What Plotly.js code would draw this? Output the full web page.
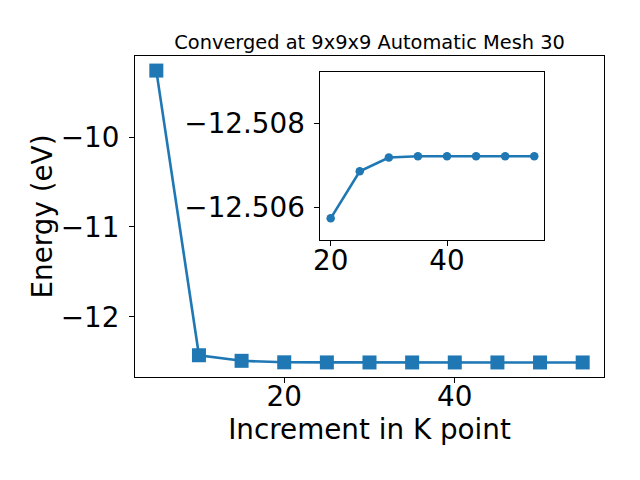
<!DOCTYPE html>
<html>
<head>
<meta charset="utf-8">
<script src="https://cdn.plot.ly/plotly-3.0.1.min.js"></script>
<style>html,body{margin:0;padding:0;background:#fff;}#chart{width:640px;height:480px;}</style>
</head>
<body>
<div id="chart"></div>
<script>
const kpoints = [5, 10, 15, 20, 25, 30, 35, 40, 45, 50, 55];
const energy = [-9.261, -12.427, -12.489, -12.50573, -12.50685, -12.50718, -12.50721, -12.50721, -12.50721, -12.50721, -12.50721];
const insetK = [20, 25, 30, 35, 40, 45, 50, 55];
const insetEnergy = [-12.50573, -12.50685, -12.50718, -12.50721, -12.50721, -12.50721, -12.50721, -12.50721];
const titleText = 'Converged at 9x9x9 Automatic Mesh 30';
const xLabel = 'Increment in K point';
const yLabel = 'Energy (eV)';

const blue = '#1f77b4';
const font = 'DejaVu Sans, sans-serif';
const fs = 27.8;

const traces = [
  {x: kpoints, y: energy, type: 'scatter', mode: 'lines+markers',
   line: {color: blue, width: 2.6}, marker: {symbol: 'square', size: 14, color: blue},
   xaxis: 'x', yaxis: 'y', hoverinfo: 'skip'},
  {x: insetK, y: insetEnergy, type: 'scatter', mode: 'lines+markers',
   line: {color: blue, width: 2.6}, marker: {symbol: 'circle', size: 8.5, color: blue},
   xaxis: 'x2', yaxis: 'y2', hoverinfo: 'skip'}
];

const axisCommon = {
  showgrid: false, zeroline: false, showline: true, mirror: true,
  linecolor: '#000', linewidth: 1, ticks: 'outside', ticklen: 5, tickwidth: 1,
  tickcolor: '#000', tickfont: {family: font, size: fs, color: '#000'}
};

const layout = {
  width: 640, height: 480,
  paper_bgcolor: '#fff', plot_bgcolor: '#fff',
  showlegend: false,
  margin: {l: 135, r: 36, t: 56, b: 103.3, pad: 0},
  title: {text: titleText, font: {family: font, size: 19.4, color: '#000'},
          x: 0.5775, xanchor: 'center', xref: 'container', y: 1 - 42/480, yanchor: 'middle', yref: 'container'},
  xaxis: Object.assign({}, axisCommon, {
    domain: [0, 1], range: [2.5, 57.5], tickvals: [20, 40], anchor: 'y',
    ticklabelstandoff: -10,
    title: {text: xLabel, font: {family: font, size: fs, color: '#000'}, standoff: 6}
  }),
  yaxis: Object.assign({}, axisCommon, {
    domain: [0, 1], range: [-12.669, -9.099], tickvals: [-12, -11, -10], anchor: 'x',
    ticklabelstandoff: 4,
    title: {text: yLabel, font: {family: font, size: fs, color: '#000'}, standoff: 0}
  }),
  xaxis2: Object.assign({}, axisCommon, {
    domain: [0.3955, 0.873], range: [18.25, 56.75], tickvals: [20, 40], anchor: 'y2',
    ticklabelstandoff: -10
  }),
  yaxis2: Object.assign({}, axisCommon, {
    domain: [0.4263, 0.9492], range: [-12.50521, -12.50921], tickvals: [-12.508, -12.506],
    tickformat: '.3f', anchor: 'x2', ticklabelstandoff: 4
  })
};

Plotly.newPlot('chart', traces, layout, {staticPlot: true, displayModeBar: false});
</script>
</body>
</html>
